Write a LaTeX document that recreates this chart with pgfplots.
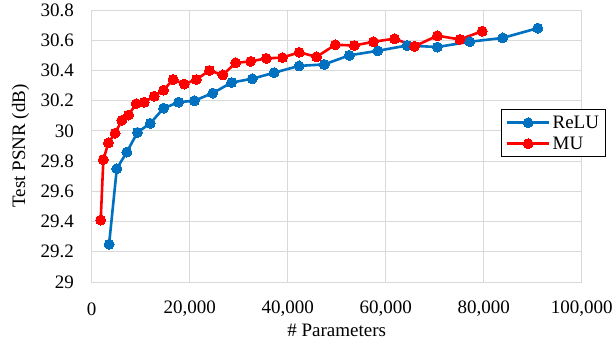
\documentclass[border=0pt]{standalone}
\usepackage{fontspec}
\setmainfont{Liberation Serif}
\usepackage{pgfplots}
\pgfplotsset{compat=1.18}
\definecolor{relublue}{RGB}{0,112,192}
\definecolor{mured}{RGB}{255,0,0}
\definecolor{gridgray}{RGB}{217,217,217}
\begin{document}
\begin{tikzpicture}
\begin{axis}[
  scale only axis,
  width=490bp, height=272bp,
  xmin=0, xmax=100000, ymin=29, ymax=30.8,
  xtick={0,20000,40000,60000,80000,100000},
  ytick={29,29.2,29.4,29.6,29.8,30,30.2,30.4,30.6,30.8},
  scaled x ticks=false,
  xticklabel style={/pgf/number format/fixed,/pgf/number format/1000 sep={,}},
  /pgf/number format/assume math mode=true,
  major tick length=0pt,
  xmajorgrids, ymajorgrids,
  grid style={draw=gridgray, line width=0.8bp},
  axis line style={draw=gridgray, line width=0.8bp},
  tick label style={font=\fontsize{19bp}{22bp}\selectfont},
  xticklabel style={anchor=center, yshift=-27bp},
  yticklabel style={anchor=east, inner sep=0pt, xshift=-17.5bp},
  xlabel={\# Parameters},
  ylabel={Test PSNR (dB)},
  every axis x label/.style={at={(rel axis cs:0.5,0)}, anchor=center, yshift=-48bp, font=\fontsize{19bp}{22bp}\selectfont},
  every axis y label/.style={at={(rel axis cs:0,0.5)}, anchor=center, rotate=90, yshift=71.2bp, font=\fontsize{19bp}{22bp}\selectfont},
  legend style={at={(axis description cs:0.942,0.547)}, anchor=center,
    draw=black, line width=0.8bp, fill=white,
    font=\fontsize{19bp}{22bp}\selectfont, inner xsep=4bp, inner ysep=4bp, row sep=3bp},
  legend cell align=left,
  legend image code/.code={\draw[mark repeat=2,mark phase=2] plot coordinates {(0cm,0cm) (0.75cm,0cm) (1.5cm,0cm)};},
]
\addplot[color=relublue, line width=2.6bp, mark=*, mark size=5bp, mark options={fill=relublue, draw=relublue, line width=0pt}] coordinates {
(3550,29.25) (5120,29.75) (7170,29.86) (9340,29.99) (11950,30.05) (14670,30.15)
(17750,30.19) (20960,30.20) (24710,30.25) (28540,30.32) (32780,30.345) (37210,30.385)
(42340,30.43) (47460,30.44) (52580,30.50) (58400,30.53) (64340,30.565) (70550,30.555)
(77170,30.59) (83870,30.615) (91040,30.68)
};
\addlegendentry{ReLU}
\addplot[color=mured, line width=2.6bp, mark=*, mark size=5bp, mark options={fill=mured, draw=mured, line width=0pt}] coordinates {
(1840,29.41) (2380,29.81) (3400,29.92) (4780,29.985) (6150,30.07) (7500,30.105)
(9080,30.18) (10720,30.19) (12770,30.23) (14670,30.27) (16600,30.34) (18900,30.31)
(21370,30.34) (24040,30.40) (26760,30.37) (29360,30.45) (32440,30.46) (35650,30.48)
(38930,30.485) (42340,30.52) (45900,30.49) (49710,30.57) (53600,30.565) (57500,30.59)
(61800,30.61) (65900,30.56) (70550,30.63) (75130,30.605) (79700,30.66)
};
\addlegendentry{MU}
\end{axis}
\pgfresetboundingbox
\path (-91.7bp,-68bp) rectangle (523.3bp,282bp);
\end{tikzpicture}
\end{document}
